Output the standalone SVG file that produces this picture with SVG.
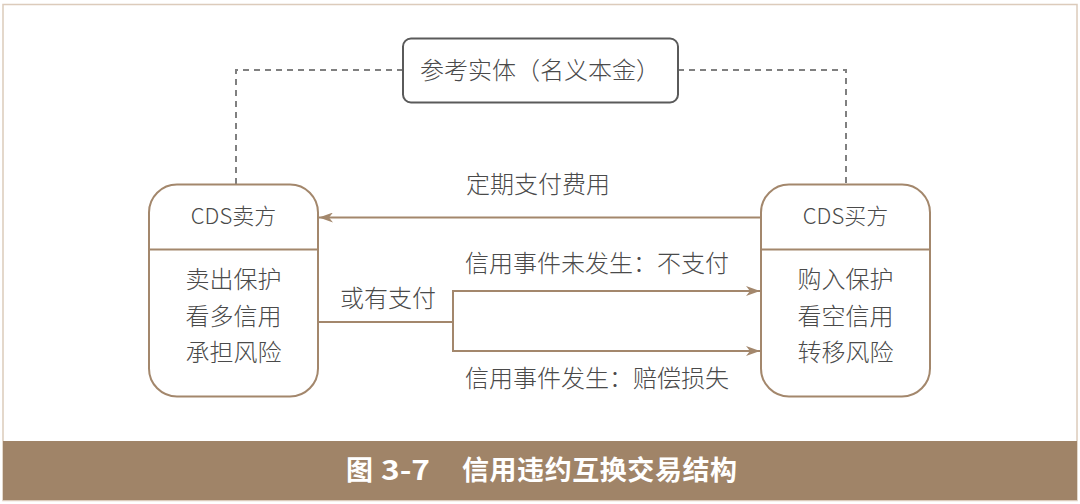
<svg xmlns="http://www.w3.org/2000/svg" width="1080" height="504" viewBox="0 0 1080 504">
<style>
.t{font-family:"Noto Sans CJK SC","Noto Sans",sans-serif;font-size:24px;fill:#4a4a4a;font-weight:300;dominant-baseline:central;text-anchor:middle}
.ts{text-anchor:start}
.box{fill:#fff;stroke:#a3876c;stroke-width:2}
.conn{fill:none;stroke:#a3876c;stroke-width:2}
.dash{fill:none;stroke:#808080;stroke-width:2;stroke-dasharray:6 5}
.cap{font-family:"Noto Sans CJK SC","Noto Sans",sans-serif;font-size:27px;font-weight:700;fill:#fff;dominant-baseline:central}
</style>
<defs>
<marker id="arr" markerUnits="userSpaceOnUse" markerWidth="14" markerHeight="10" viewBox="0 0 14 10" refX="14" refY="5" orient="auto">
<path d="M0,0 L14,5 L0,10 L4,5 z" fill="#a3876c"/>
</marker>
</defs>
<rect x="0" y="0" width="1080" height="504" fill="#fff"/>
<rect x="3" y="4.5" width="1074" height="496" fill="none" stroke="#dccbbb" stroke-width="1.5"/>
<rect id="caption-band" x="3" y="441" width="1074" height="59" fill="#a08468"/>
<g id="caption">
<text class="cap" x="346" y="468">图</text>
<text class="cap" x="381" y="468" textLength="49" lengthAdjust="spacingAndGlyphs" font-family="Liberation Sans,sans-serif">3-7</text>
<text class="cap" x="462" y="468" textLength="275">信用违约互换交易结构</text>
</g>
<g id="connectors">
<path class="dash" d="M403,70 H236 V184"/>
<path class="dash" d="M678,70 H846 V184"/>
<path class="conn" d="M761,217.5 H319" marker-end="url(#arr)"/>
<path class="conn" d="M318,322 H453 M453,291 V351"/>
<path class="conn" d="M452,291 H760" marker-end="url(#arr)"/>
<path class="conn" d="M452,351 H760" marker-end="url(#arr)"/>
</g>
<g id="labels">
<text class="t ts" x="466" y="182.5">定期支付费用</text>
<text class="t ts" x="340" y="296.5">或有支付</text>
<text class="t ts" x="465" y="261.5">信用事件未发生：不支付</text>
<text class="t ts" x="465" y="376.5">信用事件发生：赔偿损失</text>
</g>
<g id="reference">
<rect x="403" y="38.5" width="275" height="64" rx="8" fill="#fff" stroke="#5a5a5a" stroke-width="2"/>
<text class="t" x="540" y="68.5">参考实体（名义本金）</text>
</g>
<g id="seller">
<rect class="box" x="149" y="184.5" width="169" height="212" rx="28"/>
<line x1="149" y1="249.5" x2="318" y2="249.5" stroke="#a3876c" stroke-width="2"/>
<text class="t" x="233.5" y="213.5" style="font-size:22px">CDS卖方</text>
<text class="t" x="233.5" y="277.5">卖出保护</text>
<text class="t" x="233.5" y="314">看多信用</text>
<text class="t" x="233.5" y="350.5">承担风险</text>
</g>
<g id="buyer">
<rect class="box" x="761" y="184.5" width="169" height="212" rx="28"/>
<line x1="761" y1="249.5" x2="930" y2="249.5" stroke="#a3876c" stroke-width="2"/>
<text class="t" x="845.5" y="213.5" style="font-size:22px">CDS买方</text>
<text class="t" x="845.5" y="277.5">购入保护</text>
<text class="t" x="845.5" y="314">看空信用</text>
<text class="t" x="845.5" y="350.5">转移风险</text>
</g>
</svg>
